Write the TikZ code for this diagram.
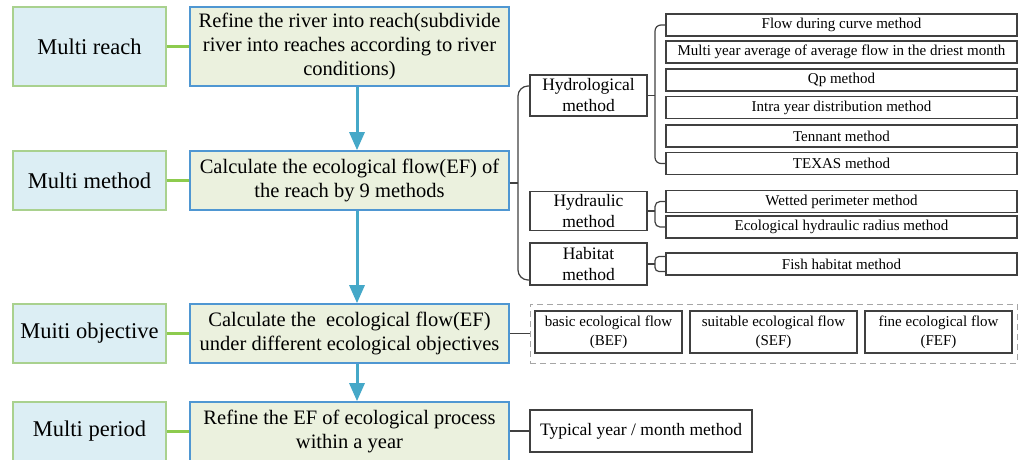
\documentclass[tikz,border=0pt]{standalone}
\usepackage{fontspec}
\setmainfont{Liberation Serif}
\usetikzlibrary{arrows.meta,calc}
\definecolor{lbfill}{HTML}{DCEEF4}
\definecolor{lbdraw}{HTML}{A9D18E}
\definecolor{gconn}{HTML}{8DCB4E}
\definecolor{mfill}{HTML}{EBF1DE}
\definecolor{mdraw}{HTML}{4F97D2}
\definecolor{arrc}{HTML}{45A8C8}
\definecolor{gline}{HTML}{404040}
\definecolor{dgray}{HTML}{A6A6A6}
\begin{document}
\begin{tikzpicture}[x=1pt,y=-1pt,
  leftbox/.style={draw=lbdraw,fill=lbfill,line width=1.6pt,minimum width=153pt,inner sep=2pt,
    font=\fontsize{22.5}{27}\selectfont},
  midbox/.style={draw=mdraw,fill=mfill,line width=1.6pt,minimum width=319pt,inner sep=2pt,
    align=center,font=\fontsize{20.5}{24}\selectfont},
  gconnect/.style={draw=gconn,line width=2.6pt},
  arr/.style={draw=arrc,line width=3pt,-{Triangle[width=15pt,length=18pt]}},
  catbox/.style={draw=gline,line width=1.2pt,minimum width=117pt,inner sep=1pt,align=center,
    font=\fontsize{17.5}{21}\selectfont},
  itembox/.style={draw=gline,line width=1.2pt,minimum width=351pt,minimum height=22pt,inner sep=1pt,
    font=\fontsize{15}{18}\selectfont},
  objbox/.style={draw=gline,line width=1.2pt,minimum height=42pt,inner sep=1pt,align=center,
    font=\fontsize{15}{19}\selectfont},
  brk/.style={draw=gline,line width=1.2pt},
  dashbox/.style={draw=dgray,line width=1pt,dashed,dash pattern=on 6pt off 4pt}]
\useasboundingbox (0,0) rectangle (1027,459);

% left column
\node[leftbox,minimum height=79pt] (L1) at (89.5,46.5) {Multi reach};
\node[leftbox,minimum height=59pt] (L2) at (89.5,180.5) {Multi method};
\node[leftbox,minimum height=59pt] (L3) at (89.5,333.5) {Muiti objective};
\node[leftbox,minimum height=59pt] (L4) at (89.5,431.5) {Multi period};

% middle column
\node[midbox,minimum height=79pt] (M1) at (349.5,46.5) {Refine the river into reach(subdivide\\river into reaches according to river\\conditions)};
\node[midbox,minimum height=59pt] (M2) at (349.5,180.5) {Calculate the ecological flow(EF) of\\the reach by 9 methods};
\node[midbox,minimum height=59pt] (M3) at (349.5,333.5) {Calculate the\ \ ecological flow(EF)\\under different ecological objectives};
\node[midbox,minimum height=59pt] (M4) at (349.5,431.5) {Refine the EF of ecological process\\within a year};

\draw[gconnect] (L1.east) -- (M1.west);
\draw[gconnect] (L2.east) -- (M2.west);
\draw[gconnect] (L3.east) -- (M3.west);
\draw[gconnect] (L4.east) -- (M4.west);

\draw[arr] ([xshift=7.5pt]M1.south) -- ([xshift=7.5pt]M2.north);
\draw[arr] ([xshift=7.5pt]M2.south) -- ([xshift=7.5pt]M3.north);
\draw[arr] ([xshift=7.5pt]M3.south) -- ([xshift=7.5pt]M4.north);

% method categories
\node[catbox,minimum height=41pt] (H1) at (588.5,95.5) {Hydrological\\method};
\node[catbox,minimum height=39pt] (H2) at (588.5,211) {Hydraulic\\method};
\node[catbox,minimum height=42pt] (H3) at (588.5,264) {Habitat\\method};

% method items
\node[itembox] (F1) at (841.5,25) {Flow during curve method};
\node[itembox] (F2) at (841.5,52) {Multi year average of average flow in the driest month};
\node[itembox] (F3) at (841.5,80) {Qp method};
\node[itembox] (F4) at (841.5,107.5) {Intra year distribution method};
\node[itembox] (F5) at (841.5,136) {Tennant method};
\node[itembox] (F6) at (841.5,163.5) {TEXAS method};
\node[itembox] (F7) at (841.5,201.5) {Wetted perimeter method};
\node[itembox] (F8) at (841.5,227) {Ecological hydraulic radius method};
\node[itembox] (F9) at (841.5,264) {Fish habitat method};

% big bracket
\coordinate (B) at (518,183);
\draw[brk] (B -| M2.east) -- (B);
\draw[brk,rounded corners=10pt] ($(H1.west)+(0,-9.5)$) -| (B) |- ($(H3.west)+(0,16)$);

% small brackets
\coordinate (HB1) at (655,95.5);
\coordinate (HB2) at (655,211);
\coordinate (HB3) at (655,264);
\draw[brk] (H1.east) -- (HB1);
\draw[brk,rounded corners=6pt] (F1.west) -| (HB1) |- (F6.west);
\draw[brk] (H2.east) -- (HB2);
\draw[brk,rounded corners=5pt] (F7.west) -| (HB2) |- (F8.west);
\draw[brk] (H3.east) -- (HB3);
\draw[brk,rounded corners=4pt] ($(F9.west)+(0,-7.5)$) -| (HB3) |- ($(F9.west)+(0,7.5)$);

% objectives
\node[dashbox,minimum width=487pt,minimum height=59pt] (D) at (773.5,333.5) {};
\node[objbox,minimum width=147pt] (O1) at (608.5,332) {basic ecological flow\\(BEF)};
\node[objbox,minimum width=167pt] (O2) at (773.5,332) {suitable ecological flow\\(SEF)};
\node[objbox,minimum width=147pt] (O3) at (938.5,332) {fine ecological flow\\(FEF)};
\draw[brk] (M3.east) -- (D.west);

% period
\node[draw=gline,line width=1.2pt,minimum width=222pt,minimum height=42pt,inner sep=1pt,
  font=\fontsize{17.5}{21}\selectfont] (T) at (641,431) {Typical year / month method};
\draw[brk] (M4.east |- T.west) -- (T.west);
\end{tikzpicture}
\end{document}
